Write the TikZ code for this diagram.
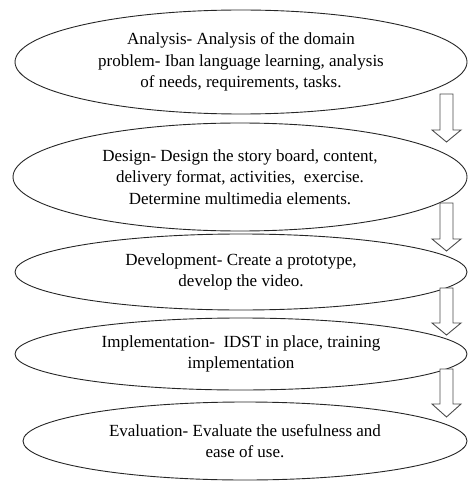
\documentclass[tikz,border=0pt]{standalone}
\usepackage{fontspec}
\setmainfont{Liberation Serif}
\usetikzlibrary{shapes.geometric}
\tikzset{
  phase/.style={ellipse, draw=black!85, line width=0.9pt, inner sep=0pt, align=center,
    font=\fontsize{17}{21.5}\selectfont, text=black},
  blockarrow/.style={draw=black!70, line width=0.9pt, fill=white, line join=miter},
}
\begin{document}
\begin{tikzpicture}[x=1pt,y=-1pt]
\useasboundingbox (0,0) rectangle (468,481);
\node[phase, minimum width=452, minimum height=104] (an) at (241,62)
  {Analysis- Analysis of the domain\\ problem- Iban language learning, analysis\\ of needs, requirements, tasks.};
\node[phase, minimum width=454, minimum height=108] (de) at (240,177)
  {Design- Design the story board, content,\\ delivery format, activities, \ exercise.\\ Determine multimedia elements.};
\node[phase, minimum width=452, minimum height=76] (dv) at (241,272)
  {Development- Create a prototype,\\ develop the video.};
\node[phase, minimum width=452, minimum height=72] (im) at (241,354)
  {Implementation- \ IDST in place, training\\ implementation};
\node[phase, minimum width=444, minimum height=78] (ev) at (245,441)
  {Evaluation- Evaluate the usefulness and\\ ease of use.};
\coordinate (t1) at (446.5,94);
\coordinate (t2) at (446.5,203);
\coordinate (t3) at (446.5,288);
\coordinate (t4) at (446.5,369);
\draw[blockarrow] (t1) ++(-6.5,0) -- ++(0,36) -- ++(-8,0) -- ++(14.5,12) -- ++(14.5,-12) -- ++(-8,0) -- ++(0,-36) -- cycle;
\draw[blockarrow] (t2) ++(-6.5,0) -- ++(0,36) -- ++(-8,0) -- ++(14.5,12) -- ++(14.5,-12) -- ++(-8,0) -- ++(0,-36) -- cycle;
\draw[blockarrow] (t3) ++(-6.5,0) -- ++(0,35) -- ++(-8,0) -- ++(14.5,12) -- ++(14.5,-12) -- ++(-8,0) -- ++(0,-35) -- cycle;
\draw[blockarrow] (t4) ++(-6.5,0) -- ++(0,35) -- ++(-8,0) -- ++(14.5,13) -- ++(14.5,-13) -- ++(-8,0) -- ++(0,-35) -- cycle;
\end{tikzpicture}
\end{document}
